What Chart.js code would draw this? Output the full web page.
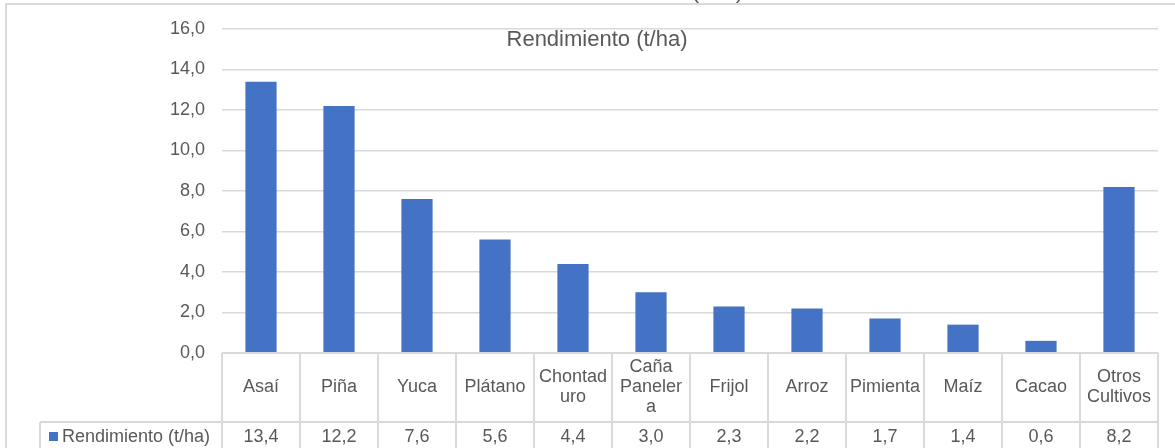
<!DOCTYPE html>
<html>
<head>
<meta charset="utf-8">
<title>Rendimiento (t/ha)</title>
<script src="https://cdn.jsdelivr.net/npm/chart.js@4.4.0/dist/chart.umd.min.js"></script>
<style>
    html, body { margin: 0; padding: 0; background: #fff; }
    canvas { display: block; }
</style>
</head>
<body>
<canvas id="bar" width="1175" height="448"></canvas>
<script>
// data
var categories = [
    ["Asaí"], ["Piña"], ["Yuca"], ["Plátano"], ["Chontad", "uro"],
    ["Caña", "Paneler", "a"], ["Frijol"], ["Arroz"], ["Pimienta"],
    ["Maíz"], ["Cacao"], ["Otros", "Cultivos"]
];
var rendimiento = [13.4, 12.2, 7.6, 5.6, 4.4, 3.0, 2.3, 2.2, 1.7, 1.4, 0.6, 8.2];
var yTicks = [0, 2, 4, 6, 8, 10, 12, 14, 16];
var seriesName = "Rendimiento (t/ha)";

var textColor = "#595959";
var lineColor = "#d9d9d9";
var barColor = "#4472c4";
var font = "'Liberation Sans', Arial, sans-serif";

// 13.4 -> "13,4"
function fmt(v) {
    return Number(v).toFixed(1).replace(".", ",");
}

// frame, title and the data table under the plot (Excel style)
var tablePlugin = {
    id: "dataTable",
    afterDraw: function (chart) {
        var ctx = chart.ctx;
        var area = chart.chartArea;
        var x = chart.scales.x;
        var n = categories.length;
        var colW = (area.right - area.left) / n;
        var rowSplit = area.bottom + 69;
        var bottom = chart.height;

        ctx.save();

        // outer frame (left + top only, rest is cropped)
        ctx.strokeStyle = lineColor;
        ctx.lineWidth = 2;
        ctx.beginPath();
        ctx.moveTo(6, bottom);
        ctx.lineTo(6, 4);
        ctx.lineTo(chart.width, 4);
        ctx.stroke();

        // bottom of a cut off title above the frame
        ctx.fillStyle = textColor;
        ctx.font = "22px " + font;
        ctx.textAlign = "right";
        ctx.textBaseline = "alphabetic";
        ctx.fillText("(t/ha)", 743, -2);

        // chart title inside plot
        ctx.textAlign = "center";
        ctx.textBaseline = "middle";
        ctx.fillText(seriesName, 597, 40);

        // table grid
        ctx.lineWidth = 2;
        ctx.beginPath();
        ctx.moveTo(area.left, area.bottom);
        ctx.lineTo(area.right, area.bottom);
        ctx.moveTo(40, rowSplit);
        ctx.lineTo(area.right, rowSplit);
        ctx.moveTo(40, rowSplit);
        ctx.lineTo(40, bottom);
        for (var i = 0; i <= n; i++) {
            var lx = area.left + i * colW;
            ctx.moveTo(lx, area.bottom);
            ctx.lineTo(lx, bottom);
        }
        ctx.stroke();

        // category labels and values
        ctx.font = "18px " + font;
        ctx.fillStyle = textColor;
        var rowMid = (area.bottom + rowSplit) / 2;
        var lh = 20;
        for (var j = 0; j < n; j++) {
            var cx = x.getPixelForValue(j);
            var lines = categories[j];
            var y0 = rowMid - (lines.length - 1) * lh / 2;
            for (var k = 0; k < lines.length; k++) {
                ctx.fillText(lines[k], cx, y0 + k * lh);
            }
            ctx.fillText(fmt(rendimiento[j]), cx, 437);
        }

        // legend key in the table
        ctx.fillStyle = barColor;
        ctx.fillRect(49, 432, 9, 9);
        ctx.fillStyle = textColor;
        ctx.textAlign = "left";
        ctx.fillText(seriesName, 62, 437);

        ctx.restore();
    }
};

var ctx = document.getElementById("bar").getContext("2d");
var chart = new Chart(ctx, {
    type: "bar",
    data: {
        labels: categories,
        datasets: [{
            label: seriesName,
            data: rendimiento,
            backgroundColor: barColor,
            borderWidth: 0,
            barPercentage: 0.4,
            categoryPercentage: 1
        }]
    },
    options: {
        responsive: false,
        animation: false,
        layout: { padding: { top: 29, right: 17, bottom: 95, left: 0 } },
        plugins: {
            legend: { display: false },
            title: { display: false },
            tooltip: { enabled: false }
        },
        scales: {
            x: { display: false },
            y: {
                min: yTicks[0],
                max: yTicks[yTicks.length - 1],
                afterFit: function (scale) { scale.width = 222; },
                border: { display: false },
                grid: { color: lineColor, lineWidth: 1.5, drawTicks: false },
                ticks: {
                    stepSize: yTicks[1] - yTicks[0],
                    padding: 17,
                    color: textColor,
                    font: { family: font, size: 18 },
                    callback: function (v) { return fmt(v); }
                }
            }
        }
    },
    plugins: [tablePlugin]
});
</script>
</body>
</html>
